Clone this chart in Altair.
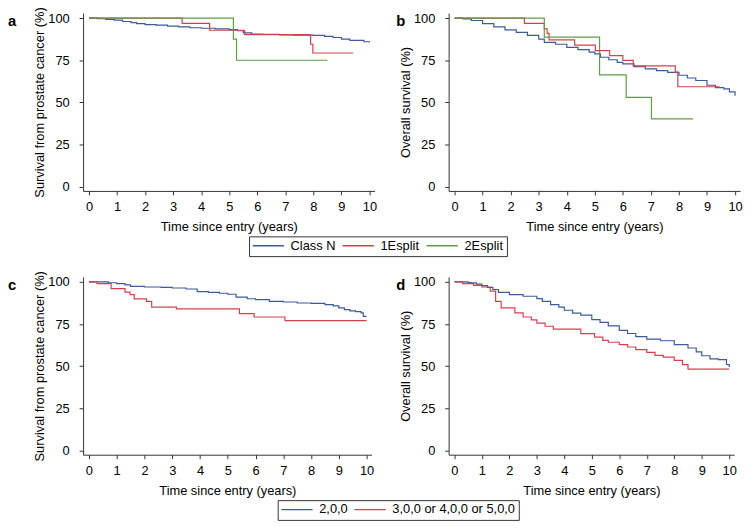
import altair as alt
import pandas as pd

# ---------------- data ----------------
# Panel a: survival from prostate cancer
a_classN_t = [0, 0.3, 0.6, 0.9, 1.2, 1.5, 1.7, 2.0, 2.4, 2.8, 3.2, 3.6, 4.0, 4.5, 5.0, 5.3, 5.5, 5.8, 6.2, 6.8, 7.3, 8.0, 8.4, 8.7, 9.0, 9.3, 9.8, 10.0]
a_classN_s = [100, 99.7, 99.3, 98.8, 98.0, 97.3, 96.7, 96.2, 95.8, 95.3, 94.8, 94.3, 94.0, 93.6, 93.2, 92.5, 91.3, 90.6, 90.4, 90.1, 89.9, 89.8, 89.2, 88.5, 87.6, 86.8, 86.0, 85.6]
a_1E_t = [0, 3.32, 4.3, 5.55, 7.9, 7.98, 9.42]
a_1E_s = [100, 96.9, 92.8, 90.2, 84.5, 79.3, 79.3]
a_2E_t = [0, 5.15, 5.26, 8.5]
a_2E_s = [100, 87.5, 75.0, 75.0]

# Panel b: overall survival
b_classN_t = [0, 0.3, 0.6, 1.0, 1.4, 1.8, 2.2, 2.6, 3.0, 3.2, 3.6, 4.0, 4.4, 4.8, 5.0, 5.2, 5.5, 5.8, 6.0, 6.4, 6.8, 7.2, 7.6, 8.0, 8.3, 8.6, 9.0, 9.3, 9.6, 9.8, 10.0]
b_classN_s = [100, 99.6, 98.6, 96.7, 94.8, 93.0, 91.5, 89.8, 87.5, 85.6, 84.5, 82.7, 81.3, 79.8, 78.8, 76.8, 75.3, 73.8, 72.9, 71.2, 69.9, 68.9, 67.8, 66.1, 64.5, 63.0, 60.2, 58.8, 58.0, 56.3, 54.0]
b_1E_t = [0, 2.49, 3.2, 3.3, 3.37, 4.28, 5.02, 5.53, 6.0, 6.37, 7.87, 7.96, 9.45]
b_1E_s = [100, 96.9, 93.6, 91.0, 87.1, 84.0, 80.7, 77.8, 74.9, 71.7, 68.0, 59.3, 59.3]
b_2E_t = [0, 3.2, 5.17, 6.12, 7.02, 8.5]
b_2E_s = [100, 88.7, 66.3, 53.0, 40.2, 40.2]

# Panel c: survival from prostate cancer
c_200_t = [0, 0.3, 0.7, 1.0, 1.3, 1.5, 2.0, 2.6, 3.0, 3.5, 3.9, 4.3, 4.7, 5.0, 5.3, 5.7, 6.0, 6.5, 7.0, 7.5, 8.0, 8.5, 8.8, 9.0, 9.2, 9.4, 9.6, 9.8, 9.88, 10.0]
c_200_s = [100, 100, 99.5, 99.0, 98.2, 97.4, 97.0, 96.8, 96.4, 95.8, 94.3, 93.8, 93.3, 92.7, 91.0, 90.0, 89.5, 88.5, 88.1, 87.5, 87.3, 86.5, 85.8, 84.6, 83.6, 82.8, 82.4, 81.6, 79.6, 79.6]
c_3_t = [0, 0.29, 0.8, 1.3, 1.48, 1.63, 2.07, 2.26, 3.15, 5.42, 5.95, 7.06, 10.0]
c_3_s = [100, 99.0, 96.0, 94.0, 92.5, 89.9, 88.5, 85.1, 84.0, 81.2, 79.2, 77.0, 77.0]

# Panel d: overall survival
d_200_t = [0, 0.5, 0.6, 0.8, 1.0, 1.2, 1.4, 1.6, 2.0, 2.5, 3.0, 3.2, 3.5, 3.8, 4.0, 4.3, 4.6, 5.0, 5.3, 5.6, 6.0, 6.3, 6.6, 7.0, 7.5, 8.0, 8.5, 8.8, 9.0, 9.3, 9.6, 9.9, 10.0]
d_200_s = [100, 99.6, 99.4, 98.7, 97.8, 96.8, 95.5, 93.8, 92.5, 91.5, 90.1, 88.5, 86.5, 85.0, 83.2, 81.5, 80.3, 77.6, 76.0, 73.9, 71.3, 69.4, 67.5, 66.1, 65.1, 62.8, 60.8, 58.5, 56.2, 54.3, 53.9, 51.0, 49.5]
d_3_t = [0, 0.3, 0.7, 1.0, 1.3, 1.5, 1.7, 2.2, 2.5, 2.8, 3.0, 3.3, 3.6, 4.6, 5.1, 5.4, 5.6, 6.0, 6.3, 6.6, 7.0, 7.3, 7.6, 8.0, 8.3, 8.5, 10.0]
d_3_s = [100, 99.0, 98.0, 97.0, 94.5, 88.5, 84.6, 81.6, 79.2, 77.5, 75.6, 73.7, 72.0, 69.3, 67.3, 65.3, 64.2, 62.8, 61.4, 59.8, 58.2, 56.4, 55.4, 53.5, 50.9, 48.3, 48.3]

top_groups = ["Class N", "1Esplit", "2Esplit"]
bottom_groups = ["2,0,0", "3,0,0 or 4,0,0 or 5,0,0"]
panel_letters = ["a", "b", "c", "d"]
x_ticks = [0, 1, 2, 3, 4, 5, 6, 7, 8, 9, 10]
y_ticks = [0, 25, 50, 75, 100]

BLUE = "#3b5b9a"
RED = "#d6404e"
GREEN = "#5e9c45"
FONT = "Liberation Sans"


def frame(parts):
    rows = []
    for name, ts, ss in parts:
        for t, s in zip(ts, ss):
            rows.append({"series": name, "t": t, "s": s})
    return pd.DataFrame(rows)


df_a = frame([(top_groups[0], a_classN_t, a_classN_s), (top_groups[1], a_1E_t, a_1E_s), (top_groups[2], a_2E_t, a_2E_s)])
df_b = frame([(top_groups[0], b_classN_t, b_classN_s), (top_groups[1], b_1E_t, b_1E_s), (top_groups[2], b_2E_t, b_2E_s)])
df_c = frame([(bottom_groups[0], c_200_t, c_200_s), (bottom_groups[1], c_3_t, c_3_s)])
df_d = frame([(bottom_groups[0], d_200_t, d_200_s), (bottom_groups[1], d_3_t, d_3_s)])


def make_legend(lx, ly):
    return alt.Legend(
        title=None, orient="none", legendX=lx, legendY=ly, direction="horizontal",
        symbolType="stroke", symbolSize=1000, symbolStrokeWidth=1.3, clipHeight=13,
        labelFont=FONT, labelFontSize=13, labelColor="black", labelOffset=6,
        columnPadding=6, gridAlign="none", strokeColor="#333333", padding=3,
    )


def panel(df, letter, lx, ytitle, domain, rng, legend, w, h):
    x = alt.X("t:Q", scale=alt.Scale(domain=[-0.21, 10.18], nice=False, zero=False),
              axis=alt.Axis(values=x_ticks, title="Time since entry (years)", format="d"))
    y = alt.Y("s:Q", scale=alt.Scale(domain=[-2.5, 103], nice=False, zero=False),
              axis=alt.Axis(values=y_ticks, title=ytitle, format="d"))
    color = alt.Color("series:N", scale=alt.Scale(domain=domain, range=rng), legend=legend)
    lines = (alt.Chart(df)
             .mark_line(interpolate="step-after", strokeWidth=1.2)
             .encode(x=x, y=y, color=color))
    tag = (alt.Chart(pd.DataFrame({"label": [letter]}))
           .mark_text(align="left", baseline="top", font=FONT, fontSize=15,
                      fontWeight="bold", color="black")
           .encode(text="label:N", x=alt.value(lx), y=alt.value(1)))
    return alt.layer(lines, tag).properties(width=w, height=h)


top_rng = [BLUE, RED, GREEN]
bot_rng = [BLUE, RED]
leg_top = make_legend(168, 226)
leg_bot = make_legend(197, 226)

pa = panel(df_a, panel_letters[0], -76, "Survival from prostate cancer (%)", top_groups, top_rng, leg_top, 295, 180)
pb = panel(df_b, panel_letters[1], -53, "Overall survival (%)", top_groups, top_rng, leg_top, 295, 180)
pc = panel(df_c, panel_letters[2], -76, "Survival from prostate cancer (%)", bottom_groups, bot_rng, leg_bot, 292, 180)
pd_ = panel(df_d, panel_letters[3], -53, "Overall survival (%)", bottom_groups, bot_rng, leg_bot, 289, 180)

row1 = alt.hconcat(pa, pb, spacing=19)
row2 = alt.hconcat(pc, pd_, spacing=22)

chart = (
    alt.vconcat(row1, row2, spacing=13)
    .resolve_scale(color="independent")
    .properties(padding={"left": 0, "top": -5, "right": 5, "bottom": 0}, background="white")
    .configure_view(stroke=None)
    .configure_axis(
        grid=False, domainColor="#333333", tickColor="#333333", tickSize=4,
        labelFont=FONT, labelFontSize=13, labelColor="black",
        titleFont=FONT, titleFontSize=13, titleFontWeight="normal", titleColor="black",
    )
    .configure_axisY(labelPadding=10, titlePadding=1)
    .configure_axisX(labelPadding=6, titlePadding=7)
)

chart.save("out.html", embed_options={"renderer": "svg", "actions": False})
